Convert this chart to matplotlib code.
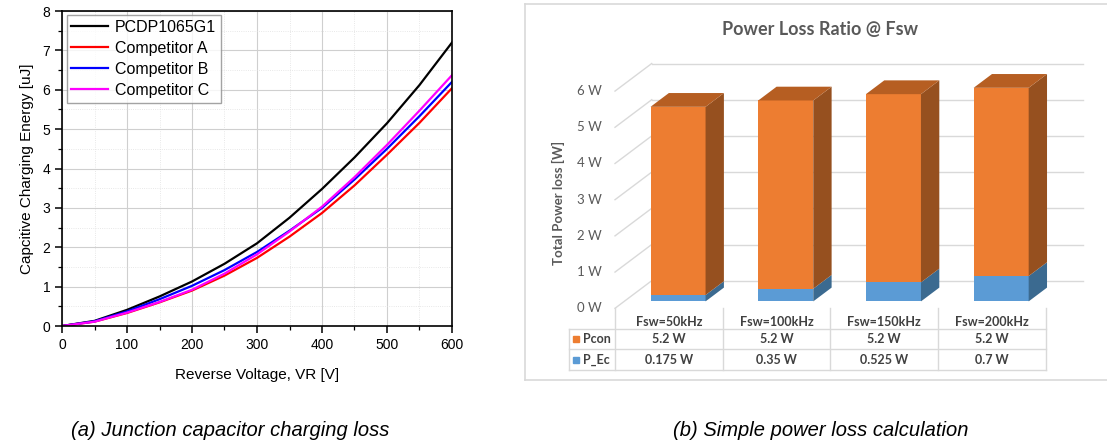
import numpy as np
import matplotlib.pyplot as plt
from matplotlib.patches import Polygon

# ---- data: (a) junction capacitor charging energy ----
vr = [0, 50, 100, 150, 200, 250, 300, 350, 400, 450, 500, 550, 600]
e_pcdp = [0, 0.13, 0.41, 0.75, 1.13, 1.58, 2.10, 2.75, 3.48, 4.28, 5.15, 6.12, 7.20]
e_comp_a = [0, 0.11, 0.33, 0.60, 0.90, 1.28, 1.73, 2.27, 2.87, 3.57, 4.35, 5.16, 6.04]
e_comp_b = [0, 0.12, 0.37, 0.68, 1.02, 1.42, 1.88, 2.42, 3.00, 3.72, 4.50, 5.33, 6.20]
e_comp_c = [0, 0.11, 0.34, 0.61, 0.92, 1.33, 1.82, 2.40, 3.03, 3.78, 4.60, 5.47, 6.37]

# ---- data: (b) power loss @ Fsw ----
fsw = ['Fsw=50kHz', 'Fsw=100kHz', 'Fsw=150kHz', 'Fsw=200kHz']
pcon = [5.2, 5.2, 5.2, 5.2]
p_ec = [0.175, 0.35, 0.525, 0.7]
pcon_lbl = ['5.2 W', '5.2 W', '5.2 W', '5.2 W']
pec_lbl = ['0.175 W', '0.35 W', '0.525 W', '0.7 W']
yticks_w = [0, 1, 2, 3, 4, 5, 6]

fig = plt.figure(figsize=(11.07, 4.48), dpi=100)

# ================= left chart =================
ax = fig.add_axes([62/1107, 1-326/448, 390/1107, 315/448])
ax.plot(vr, e_pcdp, color='black', lw=1.6, label='PCDP1065G1')
ax.plot(vr, e_comp_a, color='#ff0000', lw=1.6, label='Competitor A')
ax.plot(vr, e_comp_b, color='#0000ff', lw=1.6, label='Competitor B')
ax.plot(vr, e_comp_c, color='#ff00ff', lw=1.6, label='Competitor C')

ax.set_xlim(0, 600)
ax.set_ylim(0, 8)
ax.set_xticks(np.arange(0, 601, 100))
ax.set_xticks(np.arange(0, 601, 50), minor=True)
ax.set_yticks(np.arange(0, 9, 1))
ax.set_yticks(np.arange(0, 8.1, 0.5), minor=True)
ax.grid(which='major', color='#cfcfcf', lw=0.8)
ax.grid(which='minor', color='#e0e0e0', lw=0.6, linestyle=':')
ax.set_axisbelow(True)
ax.tick_params(which='major', direction='out', length=5, width=1.1, labelsize=10)
ax.tick_params(which='minor', direction='out', length=3, width=0.9)
for s in ax.spines.values():
    s.set_linewidth(1.2)
for t in ax.get_xticklabels() + ax.get_yticklabels():
    t.set_family('Liberation Sans')

ax.set_xlabel('Reverse Voltage, VR [V]', family='Liberation Sans', fontsize=11, labelpad=12)
ax.set_ylabel('Capcitive Charging Energy [uJ]', family='Liberation Sans', fontsize=11, labelpad=6)

leg = ax.legend(loc='upper left', bbox_to_anchor=(0.012, 0.988), fancybox=False,
                prop={'family': 'Liberation Sans', 'size': 11.5}, handlelength=2.3,
                labelspacing=0.38, borderpad=0.3, handletextpad=0.4, borderaxespad=0)
leg.get_frame().set_edgecolor('#8c8c8c')
leg.get_frame().set_linewidth(1.0)

# ================= right chart (3D-look bars) =================
bx = fig.add_axes([525/1107, 1-380/448, 582/1107, 376/448])
bx.set_xlim(-1.3357, 4.068)
bx.set_ylim(-1.981, 8.406)
bx.set_xticks([])
bx.set_yticks([])
for k, s in bx.spines.items():
    s.set_color('#d9d9d9')
    s.set_linewidth(1.2)
bx.spines['right'].set_visible(False)

DX, DY = 0.3408, 0.762      # full floor depth in data units
grid_c = '#d9d9d9'
txt_c = '#595959'
fnt = 'Lato'

# back wall and side wall grid
for v in yticks_w:
    bx.plot([-0.5, -0.5 + DX], [v, v + DY], color=grid_c, lw=1.0, zorder=1)
    bx.plot([-0.5 + DX, 3.5 + DX], [v + DY, v + DY], color=grid_c, lw=1.0, zorder=1)
    bx.text(-0.62, v, f'{v} W', ha='right', va='center', fontsize=9.5,
            color=txt_c, family=fnt)

orange, orange_top, orange_side = '#ed7d31', '#b65e22', '#96501f'
blue, blue_side = '#5b9bd5', '#3b6a90'
bw = 0.511
fx, fy = 0.25 * DX, 0.25 * DY   # bar front face position in depth
dx, dy = 0.5 * DX, 0.5 * DY     # bar depth
x = np.arange(len(fsw))
xc = x + fx
bx.bar(xc, p_ec, width=bw, bottom=fy, color=blue, zorder=3)
bx.bar(xc, pcon, width=bw, bottom=np.array(p_ec) + fy, color=orange, zorder=3)
for i in range(len(fsw)):
    r = xc[i] + bw / 2
    l = xc[i] - bw / 2
    b0 = fy
    b1 = fy + p_ec[i]
    b2 = b1 + pcon[i]
    bx.add_patch(Polygon([(r, b0), (r + dx, b0 + dy), (r + dx, b1 + dy), (r, b1)],
                         closed=True, color=blue_side, zorder=3, lw=0))
    bx.add_patch(Polygon([(r, b1), (r + dx, b1 + dy), (r + dx, b2 + dy), (r, b2)],
                         closed=True, color=orange_side, zorder=3, lw=0))
    bx.add_patch(Polygon([(l, b2), (r, b2), (r + dx, b2 + dy), (l + dx, b2 + dy)],
                         closed=True, color=orange_top, zorder=3, lw=0))

# data table below
tbl_c = '#d9d9d9'
y_hdr, y_r1, y_r2 = -0.387, -0.856, -1.428
y_l1, y_l2, y_l3 = -0.580, -1.133, -1.704
x_left = -0.924
for xb in np.arange(-0.5, 3.6, 1.0):
    bx.plot([xb, xb], [0, y_l3], color=tbl_c, lw=1.0, zorder=1)
bx.plot([x_left, x_left], [y_l1, y_l3], color=tbl_c, lw=1.0)
for yl in (y_l1, y_l2, y_l3):
    bx.plot([x_left, 3.5], [yl, yl], color=tbl_c, lw=1.0)
for i in range(len(fsw)):
    bx.text(x[i], y_hdr, fsw[i], ha='center', va='center', fontsize=9,
            color='#404040', family=fnt, fontweight='bold')
    bx.text(x[i], y_r1, pcon_lbl[i], ha='center', va='center', fontsize=9,
            color='#404040', family=fnt, fontweight='bold')
    bx.text(x[i], y_r2, pec_lbl[i], ha='center', va='center', fontsize=9,
            color='#404040', family=fnt, fontweight='bold')
bx.plot([-0.858], [y_r1], marker='s', ms=5, color=orange, ls='none')
bx.plot([-0.858], [y_r2], marker='s', ms=5, color=blue, ls='none')
bx.text(-0.80, y_r1, 'Pcon', ha='left', va='center', fontsize=9, color='#404040',
        family=fnt, fontweight='bold')
bx.text(-0.80, y_r2, 'P_Ec', ha='left', va='center', fontsize=9, color='#404040',
        family=fnt, fontweight='bold')

bx.text(1.403, 7.707, 'Power Loss Ratio @ Fsw', ha='center', va='center', fontsize=13,
        color=txt_c, family=fnt, fontweight='bold')
bx.text(-1.026, 2.909, 'Total Power loss [W]', ha='center', va='center', rotation=90,
        fontsize=9.5, color=txt_c, family=fnt, fontweight='bold')

# captions
fig.text(230/1107, 1-430/448, '(a) Junction capacitor charging loss', ha='center',
         va='center', fontsize=14.5, style='italic', family='Liberation Sans')
fig.text(821/1107, 1-430/448, '(b) Simple power loss calculation', ha='center',
         va='center', fontsize=14.5, style='italic', family='Liberation Sans')

fig.savefig('out.png', dpi=100)
